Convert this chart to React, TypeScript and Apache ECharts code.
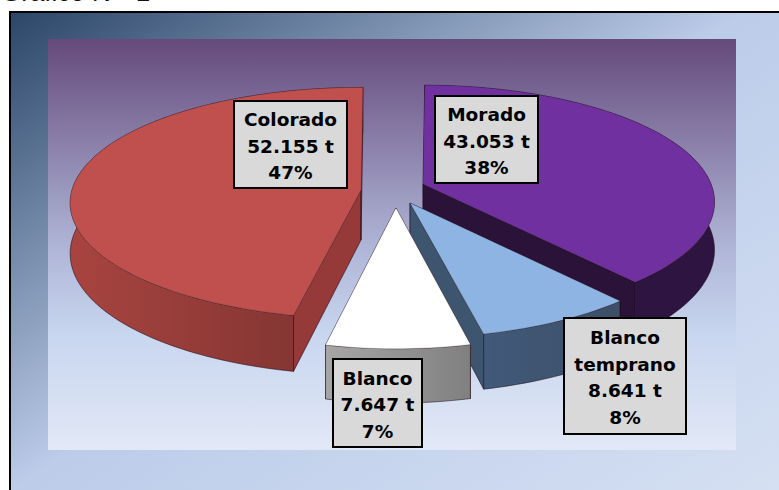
import React, { useEffect, useRef } from "react";
import * as echarts from "echarts";

// Data
const categories = ["Colorado", "Morado", "Blanco temprano", "Blanco"];
const tonnes = [52155, 43053, 8641, 7647];
const tonnesText = ["52.155 t", "43.053 t", "8.641 t", "7.647 t"];
const percents = ["47%", "38%", "8%", "7%"];
const labelLines = [["Colorado"], ["Morado"], ["Blanco", "temprano"], ["Blanco"]];

// Style / layout
const topColors = ["#C0504D", "#7030A0", "#8DB4E2", "#FFFFFF"];
const wallFrom = ["#A8443F", "#2E1440", "#41597A", "#A6A6A6"];
const wallTo = ["#7A3130", "#2E1440", "#3C4F66", "#808080"];
const cutColors = ["#953A38", "#2A1239", "#3E556F", "#8A8A8A"];
const centerX = 400;
const centerY = 196;
const explodeX = [-39, 23, 10, -4];
const explodeY = [-6, -12, 7, 12];
const radiusX = [289, 288, 285, 276];
const perspective = [0.112, 0.154, 0.154, 0.19];
const wallDepth = [50, 47, 47, 44];
const labelBoxX = [234, 435, 564, 333];
const labelBoxY = [101, 96, 318, 359];
const labelBoxW = [113, 103, 122, 89];
const labelBoxH = [87, 87, 116, 88];
const RY = 114;
const START_DEG = 192;

const total = tonnes.reduce((a, b) => a + b, 0);

function project(i: number, cx: number, cy: number, deg: number, depth = 0) {
  const t = (deg * Math.PI) / 180;
  const u = Math.sin(t);
  const v = -Math.cos(t);
  const s = 1 / (1 - perspective[i] * v);
  return [cx + radiusX[i] * u * s, cy + RY * v * s + depth * s];
}

function renderSlice(params: any, api: any) {
  const i = params.dataIndex;
  let before = 0;
  for (let k = 0; k < i; k++) before += tonnes[k];
  const a0 = START_DEG + (before / total) * 360;
  const a1 = a0 + ((api.value(0) as number) / total) * 360;
  const cx = centerX + explodeX[i];
  const cy = centerY + explodeY[i];
  const degs: number[] = [];
  const n = Math.ceil((a1 - a0) / 1.5);
  for (let k = 0; k <= n; k++) degs.push(a0 + ((a1 - a0) * k) / n);
  const arcTop = degs.map((d) => project(i, cx, cy, d));
  const arcBottom = degs.map((d) => project(i, cx, cy, d, wallDepth[i]));
  const apexBottom = [cx, cy + wallDepth[i]];
  const edge = "rgba(30,10,20,0.55)";
  const mkCut = (idx: number) => ({
    type: "polygon",
    shape: { points: [[cx, cy], arcTop[idx], arcBottom[idx], apexBottom] },
    style: { fill: cutColors[i], stroke: edge, lineWidth: 1 },
  });
  return {
    type: "group",
    children: [
      mkCut(0),
      mkCut(n),
      {
        type: "polygon",
        shape: { points: [...arcTop, ...arcBottom.slice().reverse()] },
        style: {
          fill: new echarts.graphic.LinearGradient(0, 0, 1, 0, [
            { offset: 0, color: wallFrom[i] },
            { offset: 1, color: wallTo[i] },
          ]),
          stroke: edge,
          lineWidth: 1,
        },
      },
      {
        type: "polygon",
        shape: { points: [[cx, cy], ...arcTop] },
        style: { fill: topColors[i], stroke: "rgba(60,40,50,0.2)", lineWidth: 1 },
      },
    ],
  };
}

function renderLabel(params: any) {
  const i = params.dataIndex;
  const lines = [...labelLines[i], tonnesText[i], percents[i]];
  const x = labelBoxX[i];
  const y = labelBoxY[i];
  const w = labelBoxW[i];
  const h = labelBoxH[i];
  return {
    type: "group",
    children: [
      {
        type: "rect",
        shape: { x, y, width: w, height: h },
        style: { fill: "#D9D9D9", stroke: "#000000", lineWidth: 2 },
      },
      {
        type: "text",
        x: x + w / 2,
        y: y + h / 2 + 1.5,
        style: {
          text: lines.join("\n"),
          font: 'bold 18.5px "DejaVu Sans"',
          fill: "#000000",
          align: "center",
          verticalAlign: "middle",
          lineHeight: 26.5,
        },
      },
    ],
  };
}

export default function App() {
  const ref = useRef<HTMLDivElement>(null);
  useEffect(() => {
    document.body.style.margin = "0";
    const chart = echarts.init(ref.current as HTMLDivElement, undefined, { renderer: "svg" });
    chart.setOption({
      animation: false,
      backgroundColor: "#FFFFFF",
      graphic: [
        {
          type: "rect",
          shape: { x: 10, y: 12, width: 800, height: 520 },
          style: {
            fill: new echarts.graphic.LinearGradient(0, 0, 1, 1, [
              { offset: 0, color: "#2B4668" },
              { offset: 0.46, color: "#BCCCE9" },
              { offset: 1, color: "#D8E2F4" },
            ]),
            stroke: "#000000",
            lineWidth: 2,
          },
        },
        {
          type: "rect",
          shape: { x: 48, y: 39, width: 688, height: 411 },
          style: {
            fill: new echarts.graphic.LinearGradient(0, 0, 0, 1, [
              { offset: 0, color: "#654A7C" },
              { offset: 0.5, color: "#AEB4D6" },
              { offset: 0.72, color: "#C8D6EF" },
              { offset: 1, color: "#E2E8F6" },
            ]),
          },
        },
        {
          type: "text",
          x: 1,
          y: -21,
          style: { text: "Gráfico N°  1", font: '26px "Liberation Sans"', fill: "#111111" },
        },
      ],
      series: [
        {
          type: "custom",
          coordinateSystem: "none",
          name: "Producción",
          z: 2,
          data: categories.map((name, i) => ({ name, value: [tonnes[i]] })),
          renderItem: renderSlice,
          silent: true,
        },
        {
          type: "custom",
          coordinateSystem: "none",
          name: "Etiquetas",
          z: 3,
          data: categories.map((name, i) => ({ name, value: [tonnes[i]] })),
          renderItem: renderLabel,
          silent: true,
        },
      ],
    });
    return () => chart.dispose();
  }, []);
  return <div ref={ref} style={{ position: "absolute", left: 0, top: 0, width: 779, height: 490 }} />;
}
